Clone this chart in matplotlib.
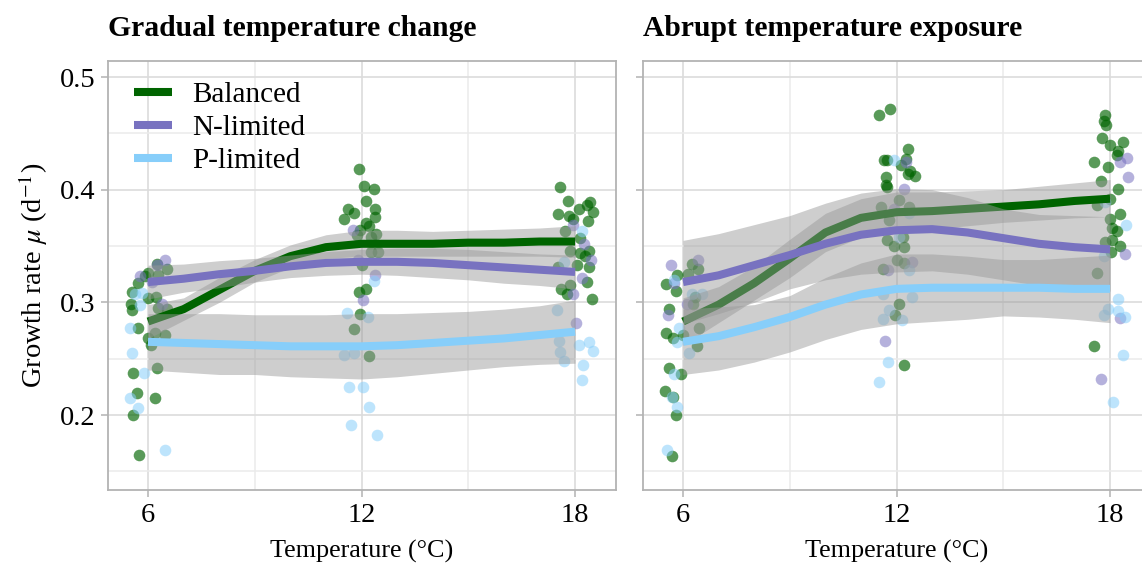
import matplotlib
matplotlib.use("Agg")
import matplotlib.pyplot as plt
from matplotlib.lines import Line2D
from matplotlib.ticker import MultipleLocator

plt.rcParams['font.family'] = ['Liberation Serif', 'DejaVu Serif']
plt.rcParams['mathtext.fontset'] = 'stix'

# ---------------- data ----------------
groups = ['Balanced', 'N-limited', 'P-limited']
colors = ['#006400', '#7872C0', '#87CEFA']
panel_titles = ['Gradual temperature change', 'Abrupt temperature exposure']

# jittered observations, gradual panel
grad_bal_t = [6.24, 6.53, 6.01, 5.92, 5.73, 6.29, 5.56, 5.99, 6.22, 5.52, 5.54, 6.29,
              6.53, 5.73, 6.20, 6.01, 6.48, 6.08, 6.24, 5.59, 5.68, 6.20, 5.59, 5.75,
              11.92, 12.06, 12.34, 12.12, 12.38, 11.63, 11.80, 11.50, 12.37, 12.13, 12.22,
              11.97, 11.88, 12.41, 12.27, 12.27, 12.46, 12.01, 12.13, 11.94, 11.95, 11.78, 12.22,
              17.58, 17.81, 18.42, 18.12, 18.33, 18.50, 17.53, 17.84, 17.95, 18.37, 17.72,
              18.14, 18.40, 18.14, 18.28, 17.86, 18.40, 18.06, 17.53, 18.33, 17.86, 17.60, 17.78, 18.47]
grad_bal_mu = [0.334, 0.330, 0.326, 0.323, 0.317, 0.324, 0.309, 0.304, 0.305, 0.299, 0.293, 0.295,
               0.294, 0.277, 0.273, 0.268, 0.271, 0.262, 0.242, 0.237, 0.220, 0.215, 0.200, 0.165,
               0.418, 0.403, 0.401, 0.390, 0.383, 0.383, 0.379, 0.374, 0.376, 0.370, 0.368,
               0.364, 0.360, 0.361, 0.358, 0.345, 0.345, 0.333, 0.312, 0.309, 0.290, 0.276, 0.252,
               0.402, 0.390, 0.389, 0.383, 0.386, 0.380, 0.378, 0.377, 0.374, 0.372, 0.363,
               0.357, 0.346, 0.344, 0.341, 0.346, 0.331, 0.333, 0.331, 0.318, 0.315, 0.312, 0.307, 0.303]
grad_n_t = [6.48, 6.24, 5.78, 6.38, 6.10,
            11.76, 11.90, 12.39, 12.04,
            17.95, 18.25, 18.44, 18.19, 17.95, 18.03]
grad_n_mu = [0.338, 0.333, 0.323, 0.299, 0.318,
             0.364, 0.338, 0.324, 0.302,
             0.369, 0.352, 0.338, 0.322, 0.307, 0.282]
grad_p_t = [5.82, 5.63, 5.78, 5.49, 5.54, 5.90, 5.49, 5.73, 6.48,
            12.35, 11.59, 12.18, 11.52, 11.78, 11.66, 12.04, 12.22, 11.69, 12.43,
            18.19, 17.69, 17.50, 18.40, 18.12, 18.49, 17.55, 17.58, 17.69, 18.23, 18.19]
grad_p_mu = [0.308, 0.307, 0.298, 0.277, 0.255, 0.237, 0.215, 0.206, 0.169,
             0.319, 0.291, 0.287, 0.253, 0.255, 0.225, 0.225, 0.207, 0.191, 0.182,
             0.363, 0.336, 0.293, 0.265, 0.262, 0.257, 0.266, 0.256, 0.248, 0.244, 0.231]

# jittered observations, abrupt panel
abr_bal_t = [6.24, 6.43, 6.15, 5.84, 5.52, 5.80, 6.34, 5.62, 6.46, 5.52, 5.71, 5.99, 6.40,
             5.62, 5.94, 5.49, 5.71, 5.80, 5.68, 6.28,
             11.52, 11.82, 12.32, 11.66, 11.73, 12.27, 12.13, 12.37, 12.32, 12.51, 11.69,
             11.71, 11.73, 12.08, 11.57, 12.35, 11.78, 12.18, 11.73, 11.94, 12.21, 12.01,
             12.21, 11.62, 12.08, 11.97, 12.22,
             17.86, 17.84, 17.88, 17.77, 18.36, 18.00, 18.23, 18.19, 17.56, 17.95, 18.23,
             17.75, 18.00, 18.28, 18.00, 18.06, 18.19, 18.06, 18.28, 18.03, 17.63, 17.56, 17.63, 17.86]
abr_bal_mu = [0.334, 0.330, 0.325, 0.324, 0.316, 0.310, 0.305, 0.294, 0.277, 0.273, 0.268, 0.271, 0.261,
              0.242, 0.236, 0.221, 0.216, 0.200, 0.164, 0.299,
              0.466, 0.472, 0.436, 0.426, 0.426, 0.427, 0.422, 0.417, 0.414, 0.412, 0.411,
              0.404, 0.402, 0.391, 0.385, 0.385, 0.373, 0.358, 0.355, 0.350, 0.349, 0.338,
              0.335, 0.330, 0.299, 0.289, 0.244,
              0.466, 0.461, 0.457, 0.446, 0.442, 0.440, 0.434, 0.431, 0.425, 0.420, 0.401,
              0.408, 0.392, 0.378, 0.374, 0.366, 0.363, 0.355, 0.350, 0.345, 0.326, 0.261, 0.386, 0.354]
abr_n_t = [5.65, 5.75, 5.57, 6.43, 6.10,
           12.27, 12.20, 11.92, 12.43, 11.76, 11.68,
           18.28, 18.47, 18.50, 18.42, 18.28, 17.75]
abr_n_mu = [0.333, 0.317, 0.289, 0.338, 0.299,
            0.425, 0.401, 0.383, 0.336, 0.329, 0.266,
            0.425, 0.428, 0.411, 0.343, 0.286, 0.232]
abr_p_t = [5.75, 6.24, 6.53, 5.90, 5.82, 6.18, 5.75, 5.68, 5.82, 5.54,
           11.92, 12.35, 12.08, 12.35, 11.63, 12.43, 11.78, 11.63, 12.14, 11.76, 11.50,
           17.86, 18.44, 17.84, 18.22, 17.95, 18.23, 17.84, 18.42, 18.37, 18.09]
abr_p_mu = [0.320, 0.307, 0.307, 0.277, 0.265, 0.255, 0.236, 0.216, 0.207, 0.169,
            0.426, 0.379, 0.358, 0.329, 0.307, 0.305, 0.293, 0.285, 0.284, 0.247, 0.229,
            0.389, 0.369, 0.341, 0.303, 0.294, 0.292, 0.289, 0.287, 0.253, 0.212]

# smoothed fits with confidence band, read at each degree
fit_t = [6, 7, 8, 9, 10, 11, 12, 13, 14, 15, 16, 17, 18]

grad_bal_fit = [0.283, 0.294, 0.311, 0.328, 0.341, 0.349, 0.352, 0.352, 0.352, 0.353, 0.353, 0.354, 0.354]
grad_bal_lo = [0.268, 0.284, 0.300, 0.318, 0.331, 0.339, 0.341, 0.341, 0.341, 0.341, 0.341, 0.341, 0.340]
grad_bal_hi = [0.298, 0.304, 0.322, 0.338, 0.351, 0.360, 0.364, 0.364, 0.363, 0.364, 0.365, 0.366, 0.368]
grad_n_fit = [0.318, 0.321, 0.325, 0.328, 0.332, 0.335, 0.336, 0.336, 0.335, 0.333, 0.331, 0.329, 0.327]
grad_n_lo = [0.303, 0.309, 0.313, 0.318, 0.322, 0.324, 0.325, 0.324, 0.322, 0.320, 0.317, 0.315, 0.312]
grad_n_hi = [0.333, 0.334, 0.337, 0.339, 0.342, 0.345, 0.347, 0.348, 0.348, 0.347, 0.345, 0.343, 0.342]
grad_p_fit = [0.265, 0.264, 0.263, 0.262, 0.261, 0.261, 0.261, 0.262, 0.264, 0.266, 0.268, 0.271, 0.274]
grad_p_lo = [0.240, 0.238, 0.236, 0.236, 0.234, 0.233, 0.232, 0.234, 0.237, 0.240, 0.243, 0.245, 0.246]
grad_p_hi = [0.290, 0.290, 0.290, 0.289, 0.289, 0.289, 0.290, 0.290, 0.291, 0.292, 0.294, 0.297, 0.302]

abr_bal_fit = [0.283, 0.298, 0.317, 0.339, 0.362, 0.375, 0.380, 0.381, 0.383, 0.385, 0.387, 0.390, 0.392]
abr_bal_lo = [0.262, 0.282, 0.302, 0.322, 0.345, 0.358, 0.362, 0.365, 0.368, 0.371, 0.373, 0.375, 0.376]
abr_bal_hi = [0.304, 0.314, 0.332, 0.356, 0.379, 0.392, 0.398, 0.398, 0.399, 0.400, 0.403, 0.406, 0.409]
abr_n_fit = [0.318, 0.324, 0.333, 0.342, 0.352, 0.360, 0.364, 0.365, 0.362, 0.357, 0.352, 0.349, 0.347]
abr_n_lo = [0.281, 0.290, 0.300, 0.312, 0.320, 0.325, 0.327, 0.328, 0.325, 0.320, 0.315, 0.312, 0.310]
abr_n_hi = [0.355, 0.361, 0.369, 0.377, 0.388, 0.397, 0.401, 0.400, 0.393, 0.383, 0.378, 0.377, 0.376]
abr_p_fit = [0.265, 0.270, 0.278, 0.287, 0.298, 0.307, 0.312, 0.313, 0.313, 0.313, 0.313, 0.312, 0.312]
abr_p_lo = [0.236, 0.240, 0.247, 0.256, 0.267, 0.276, 0.281, 0.283, 0.285, 0.288, 0.287, 0.285, 0.282]
abr_p_hi = [0.294, 0.296, 0.298, 0.306, 0.322, 0.335, 0.343, 0.343, 0.341, 0.338, 0.338, 0.340, 0.342]

panels = [
    [(grad_bal_t, grad_bal_mu, grad_bal_fit, grad_bal_lo, grad_bal_hi),
     (grad_n_t, grad_n_mu, grad_n_fit, grad_n_lo, grad_n_hi),
     (grad_p_t, grad_p_mu, grad_p_fit, grad_p_lo, grad_p_hi)],
    [(abr_bal_t, abr_bal_mu, abr_bal_fit, abr_bal_lo, abr_bal_hi),
     (abr_n_t, abr_n_mu, abr_n_fit, abr_n_lo, abr_n_hi),
     (abr_p_t, abr_p_mu, abr_p_fit, abr_p_lo, abr_p_hi)],
]

# ---------------- figure ----------------
W, H = 1142, 570
fig = plt.figure(figsize=(W / 100, H / 100), dpi=100)
ax1 = fig.add_axes([108 / W, 80 / H, 508 / W, 429 / H])
ax2 = fig.add_axes([643 / W, 80 / H, 508 / W, 429 / H])
point_alpha = [0.65, 0.55, 0.55]

for ax, data, title in zip([ax1, ax2], panels, panel_titles):
    # points first, then ribbon + line per group (so later ribbons veil earlier lines)
    for (t, mu, fit, lo, hi), col, a in zip(data, colors, point_alpha):
        ax.scatter(t, mu, s=70, color=col, alpha=a, linewidths=0, zorder=2)
    z = 3
    for (t, mu, fit, lo, hi), col in zip(data, colors):
        ax.fill_between(fit_t, lo, hi, color='#999999', alpha=0.48, linewidth=0, zorder=z)
        ax.plot(fit_t, fit, color=col, lw=5.8, solid_capstyle='butt',
                solid_joinstyle='round', zorder=z + 0.5)
        z += 1

    ax.set_xlim(4.876, 19.15)
    ax.set_ylim(0.1335, 0.5142)
    ax.set_xticks([6, 12, 18])
    ax.xaxis.set_minor_locator(MultipleLocator(3))
    ax.set_yticks([0.2, 0.3, 0.4, 0.5])
    ax.yaxis.set_minor_locator(MultipleLocator(0.05))
    ax.grid(True, which='major', color='#dcdcdc', lw=1.2, zorder=0)
    ax.grid(True, which='minor', color='#ebebeb', lw=1.1, zorder=0)
    ax.set_axisbelow(True)
    for sp in ax.spines.values():
        sp.set_color('#b3b3b3')
        sp.set_linewidth(1.3)
    ax.tick_params(which='major', direction='out', length=5, width=1.1, color='#b3b3b3',
                   labelsize=20.5, pad=4)
    ax.tick_params(which='minor', length=0)
    ax.set_xlabel('Temperature (°C)', fontsize=18.8, labelpad=9)
    fig.text(ax.get_position().x0, 1 - 29 / H, title, ha='left', va='center',
             fontsize=21.3, fontweight='bold')

ax1.set_yticklabels(['0.2', '0.3', '0.4', '0.5'])
ax2.set_yticklabels([])
ax1.set_ylabel(r'Growth rate $\mu$ (d$^{-1}$)', fontsize=20.5, labelpad=7)

handles = [Line2D([0], [0], color=c, lw=5.8, solid_capstyle='butt') for c in colors]
ax1.legend(handles, groups, loc='upper left', bbox_to_anchor=(0.04, 0.965), frameon=False,
           fontsize=21, handlelength=1.3, handletextpad=0.7, labelspacing=0.22,
           borderaxespad=0, borderpad=0.2)

plt.savefig('out.png', dpi=100)
